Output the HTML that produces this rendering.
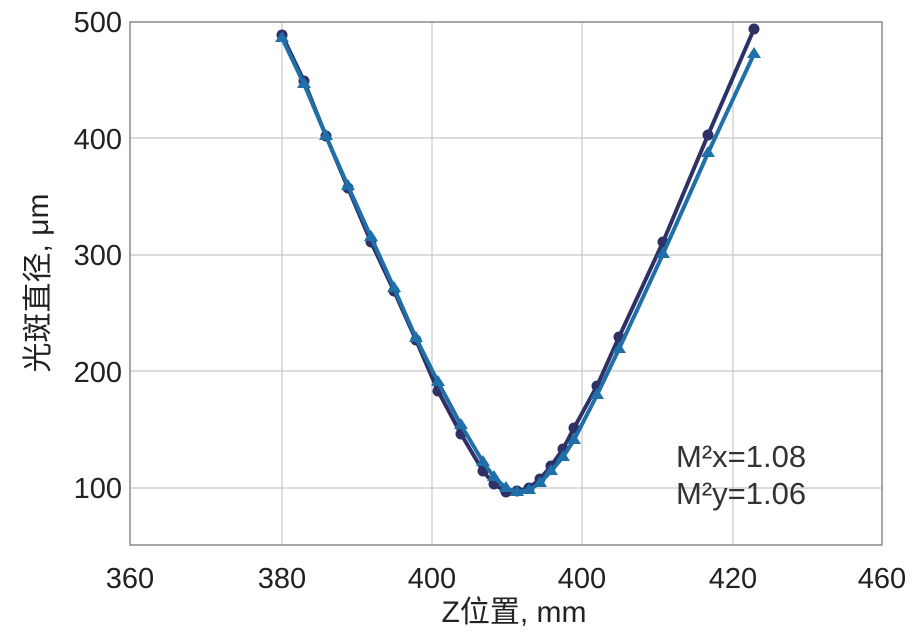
<!DOCTYPE html><html><head><style>body{margin:0;background:#fff}</style></head><body>
<svg width="912" height="633" xmlns="http://www.w3.org/2000/svg" font-family="Liberation Sans, Noto Sans CJK SC, sans-serif">
<rect width="912" height="633" fill="#fff"/>
<g stroke="#c8c8c8" stroke-width="1.2">
<line x1="282" y1="22" x2="282" y2="545"/><line x1="432" y1="22" x2="432" y2="545"/><line x1="582" y1="22" x2="582" y2="545"/><line x1="733" y1="22" x2="733" y2="545"/>
<line x1="130" y1="138" x2="882" y2="138"/><line x1="130" y1="255" x2="882" y2="255"/><line x1="130" y1="371" x2="882" y2="371"/><line x1="130" y1="488" x2="882" y2="488"/>
</g>
<rect x="130" y="22" width="752" height="523" fill="none" stroke="#8a8a8a" stroke-width="1.5"/>
<g font-size="29" fill="#222" text-anchor="end">
<text x="122" y="32">500</text><text x="122" y="149">400</text><text x="122" y="265">300</text><text x="122" y="382">200</text><text x="122" y="498">100</text></g>
<g font-size="29" fill="#222" text-anchor="middle">
<text x="130" y="588">360</text><text x="282" y="588">380</text><text x="432" y="588">400</text><text x="582" y="588">400</text><text x="733" y="588">420</text><text x="882" y="588">460</text>
<text x="514" y="622" font-size="30">Z位置, mm</text></g>
<text transform="translate(48,283) rotate(-90)" font-size="30" fill="#222" text-anchor="middle">光斑直径, μm</text>
<g font-size="31" fill="#333"><text x="676" y="467">M²x=1.08</text><text x="676" y="504">M²y=1.06</text></g>
<polyline fill="none" stroke="#2e3166" stroke-width="4" points="282,35 304,81 326,136 348,188 371,242 394,291 416,340 438,391 461,434 483,471 494,484 506,492 517,491 529,488 540,479 551,466 563,449 574,428 597,386 619,337 663,242 708,135 754,29"/>
<g fill="#2e3166">
<circle cx="282" cy="35" r="5.5"/><circle cx="304" cy="81" r="5.5"/><circle cx="326" cy="136" r="5.5"/><circle cx="348" cy="188" r="5.5"/><circle cx="371" cy="242" r="5.5"/><circle cx="394" cy="291" r="5.5"/><circle cx="416" cy="340" r="5.5"/><circle cx="438" cy="391" r="5.5"/><circle cx="461" cy="434" r="5.5"/><circle cx="483" cy="471" r="5.5"/><circle cx="494" cy="484" r="5.5"/><circle cx="506" cy="492" r="5.5"/><circle cx="517" cy="491" r="5.5"/><circle cx="529" cy="488" r="5.5"/><circle cx="540" cy="479" r="5.5"/><circle cx="551" cy="466" r="5.5"/><circle cx="563" cy="449" r="5.5"/><circle cx="574" cy="428" r="5.5"/><circle cx="597" cy="386" r="5.5"/><circle cx="619" cy="337" r="5.5"/><circle cx="663" cy="242" r="5.5"/><circle cx="708" cy="135" r="5.5"/><circle cx="754" cy="29" r="5.5"/></g>
<polyline fill="none" stroke="#1f6fa8" stroke-width="4" points="282,38 304,84 326,136 348,186 371,237 394,288 416,338 438,382 461,425 483,462 494,477 506,488 517,492 529,490 540,483 551,471 563,457 574,440 597,395 619,349 663,254 708,153 754,54"/>
<g fill="#1f6fa8">
<path d="M282,31l7,11h-14z"/><path d="M304,77l7,11h-14z"/><path d="M326,129l7,11h-14z"/><path d="M348,179l7,11h-14z"/><path d="M371,230l7,11h-14z"/><path d="M394,281l7,11h-14z"/><path d="M416,331l7,11h-14z"/><path d="M438,375l7,11h-14z"/><path d="M461,418l7,11h-14z"/><path d="M483,455l7,11h-14z"/><path d="M494,470l7,11h-14z"/><path d="M506,481l7,11h-14z"/><path d="M517,485l7,11h-14z"/><path d="M529,483l7,11h-14z"/><path d="M540,476l7,11h-14z"/><path d="M551,464l7,11h-14z"/><path d="M563,450l7,11h-14z"/><path d="M574,433l7,11h-14z"/><path d="M597,388l7,11h-14z"/><path d="M619,342l7,11h-14z"/><path d="M663,247l7,11h-14z"/><path d="M708,146l7,11h-14z"/><path d="M754,47l7,11h-14z"/></g>
</svg></body></html>
